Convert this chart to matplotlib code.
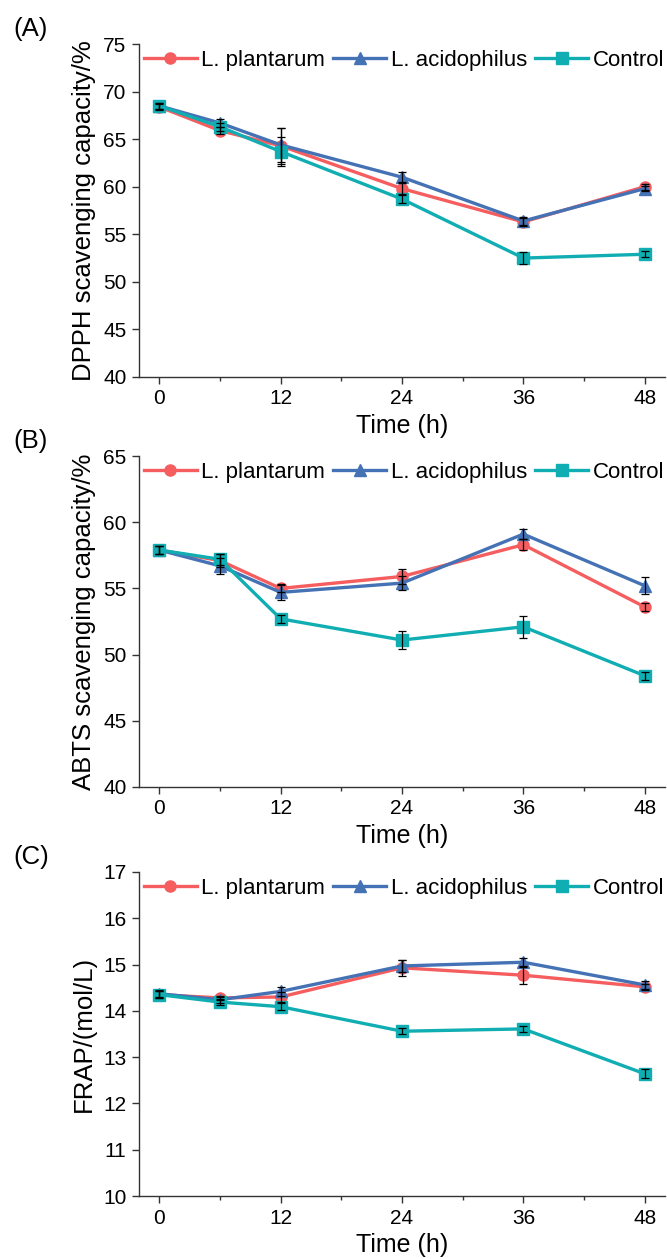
import matplotlib
matplotlib.use("Agg")
import matplotlib.pyplot as plt
from matplotlib.ticker import MultipleLocator

plt.rcParams["font.family"] = ["Liberation Sans", "DejaVu Sans"]

time_h = [0, 6, 12, 24, 36, 48]
series_names = ["L. plantarum", "L. acidophilus", "Control"]

# (A) DPPH scavenging capacity /%
dpph_plant = [68.4, 65.9, 64.3, 59.8, 56.3, 60.0]
dpph_acid = [68.5, 66.7, 64.4, 61.0, 56.4, 59.8]
dpph_ctrl = [68.5, 66.3, 63.7, 58.7, 52.5, 52.9]
dpph_plant_err = [0.3, 0.4, 1.9, 0.6, 0.4, 0.3]
dpph_acid_err = [0.3, 0.4, 1.8, 0.5, 0.4, 0.3]
dpph_ctrl_err = [0.3, 0.4, 1.5, 0.4, 0.6, 0.3]

# (B) ABTS scavenging capacity /%
abts_plant = [57.9, 57.1, 55.0, 55.9, 58.3, 53.6]
abts_acid = [57.9, 56.7, 54.7, 55.4, 59.1, 55.2]
abts_ctrl = [57.9, 57.2, 52.7, 51.1, 52.1, 48.4]
abts_plant_err = [0.3, 0.5, 0.3, 0.55, 0.4, 0.3]
abts_acid_err = [0.3, 0.6, 0.55, 0.5, 0.4, 0.65]
abts_ctrl_err = [0.3, 0.4, 0.3, 0.7, 0.85, 0.3]

# (C) FRAP /(mol/L)
frap_plant = [14.35, 14.28, 14.30, 14.93, 14.77, 14.52]
frap_acid = [14.37, 14.24, 14.42, 14.97, 15.05, 14.56]
frap_ctrl = [14.35, 14.19, 14.09, 13.56, 13.61, 12.64]
frap_plant_err = [0.08, 0.05, 0.1, 0.17, 0.2, 0.07]
frap_acid_err = [0.08, 0.06, 0.1, 0.12, 0.1, 0.08]
frap_ctrl_err = [0.07, 0.06, 0.07, 0.07, 0.07, 0.1]

colors = ["#F55D5F", "#4472B4", "#10AEB3"]
markers = ["o", "^", "s"]

panels = [
    ("(A)", "DPPH scavenging capacity/%", (40, 75), 5,
     [dpph_plant, dpph_acid, dpph_ctrl], [dpph_plant_err, dpph_acid_err, dpph_ctrl_err]),
    ("(B)", "ABTS scavenging capacity/%", (40, 65), 5,
     [abts_plant, abts_acid, abts_ctrl], [abts_plant_err, abts_acid_err, abts_ctrl_err]),
    ("(C)", "FRAP/(mol/L)", (10, 17), 1,
     [frap_plant, frap_acid, frap_ctrl], [frap_plant_err, frap_acid_err, frap_ctrl_err]),
]

W, H = 667, 1259
fig = plt.figure(figsize=(W / 100, H / 100), dpi=100)
# axes boxes in pixels: (top, bottom)
boxes = [(44, 377), (456, 787), (872, 1196)]
left_px, right_px = 139, 665

for (lab, ylab, ylim, ystep, vals, errs), (top, bot) in zip(panels, boxes):
    ax = fig.add_axes([left_px / W, 1 - bot / H, (right_px - left_px) / W, (bot - top) / H])
    for name, v, e, c, m in zip(series_names, vals, errs, colors, markers):
        ax.plot(time_h, v, color=c, marker=m, ms=8, lw=2.4, label=name, zorder=2)
        ax.errorbar(time_h, v, yerr=e, fmt="none", ecolor="black", elinewidth=0.9,
                    capsize=3, capthick=0.9, zorder=3)
    ax.set_xlim(-2, 50)
    ax.set_ylim(*ylim)
    ax.xaxis.set_major_locator(MultipleLocator(12))
    ax.xaxis.set_minor_locator(MultipleLocator(6))
    ax.yaxis.set_major_locator(MultipleLocator(ystep))
    for s in ("top", "right"):
        ax.spines[s].set_visible(False)
    for s in ("left", "bottom"):
        ax.spines[s].set_color("#333333")
        ax.spines[s].set_linewidth(1.0)
    ax.tick_params(which="major", direction="out", length=5, width=1, color="#333333",
                   labelsize=15, pad=4)
    ax.tick_params(which="minor", direction="out", length=3, width=1, color="#333333")
    ax.set_xlabel("Time (h)", fontsize=18, labelpad=4)
    ax.set_ylabel(ylab, fontsize=18.5, labelpad=5)
    ax.legend(loc="upper left", bbox_to_anchor=(-0.008, 1.01), ncol=3, frameon=False,
              fontsize=16, handlelength=2.4, handletextpad=0.2, columnspacing=0.35,
              borderaxespad=0.2, borderpad=0.2)
    fig.text(13 / W, 1 - (top - 15) / H, lab, fontsize=18.5, ha="left", va="center")

fig.savefig("out.png", dpi=100)
